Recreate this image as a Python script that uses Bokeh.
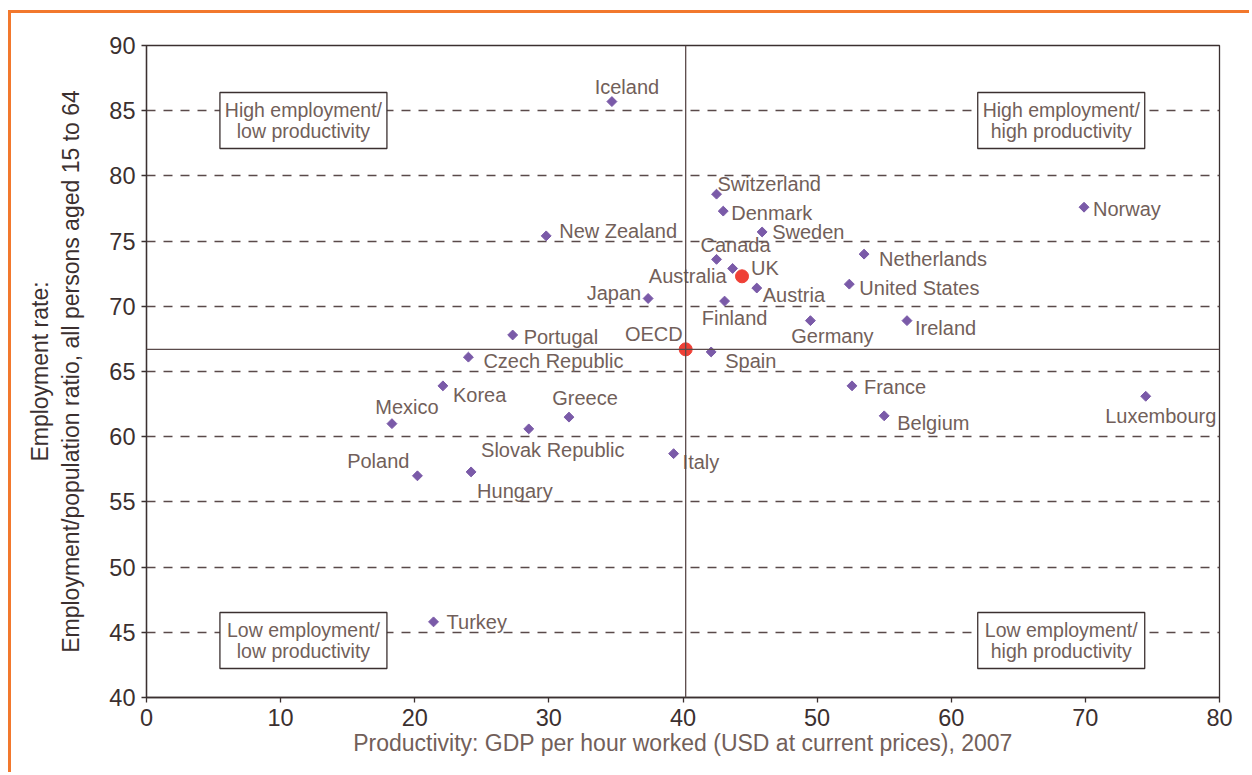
from bokeh.plotting import figure
from bokeh.models import Range1d, Span, FixedTicker, ColumnDataSource
from bokeh.core.properties import value
from bokeh.embed import file_html
from bokeh.resources import INLINE

# ---------------- data ----------------
countries = ["Iceland", "Switzerland", "Denmark", "Sweden", "New Zealand", "Norway",
             "Canada", "Netherlands", "Australia", "United States", "Austria", "Japan",
             "Finland", "Germany", "Ireland", "Portugal", "Spain", "Czech Republic",
             "Korea", "France", "Luxembourg", "Mexico", "Greece", "Belgium",
             "Slovak Republic", "Italy", "Poland", "Hungary", "Turkey"]
productivity = [34.7, 42.5, 43.0, 45.9, 29.8, 69.9,
                42.5, 53.5, 43.7, 52.4, 45.5, 37.4,
                43.1, 49.5, 56.7, 27.3, 42.1, 24.0,
                22.1, 52.6, 74.5, 18.3, 31.5, 55.0,
                28.5, 39.3, 20.2, 24.2, 21.4]
employment = [85.7, 78.6, 77.3, 75.7, 75.4, 77.6,
              73.6, 74.0, 72.9, 71.7, 71.4, 70.6,
              70.4, 68.9, 68.9, 67.8, 66.5, 66.1,
              63.9, 63.9, 63.1, 61.0, 61.5, 61.6,
              60.6, 58.7, 57.0, 57.3, 45.8]

highlight_names = ["UK", "OECD"]
highlight_productivity = [44.4, 40.2]
highlight_employment = [72.3, 66.7]

oecd_productivity = 40.2
oecd_employment = 66.7

quadrant_lines = [["High employment/", "low productivity"],
                  ["High employment/", "high productivity"],
                  ["Low employment/", "low productivity"],
                  ["Low employment/", "high productivity"]]

x_ticks = [0, 10, 20, 30, 40, 50, 60, 70, 80]
y_ticks = [40, 45, 50, 55, 60, 65, 70, 75, 80, 85, 90]
grid_levels = [45, 50, 55, 60, 65, 70, 75, 80, 85]

# ---------------- label placement (screen px offsets, styling only) ----------------
lab_dx = [15, 1, 8, 10, 13, 9,
          19, 15, -6, 10, 6, -7,
          10, 22, 8, 11, 14, 15,
          10, 12, 15, 15, 16, 13,
          24, 9, -8, 6, 13]
lab_dy = [-15, -10, 2, 0, -5, 2,
          -14, 5, 8, 4, 7, -5,
          17, 15, 7, 2, 9, 4,
          9, 1, 20, -17, -19, 7,
          21, 8, -15, 19, 0]
lab_align = ["center", "left", "left", "left", "left", "left",
             "center", "left", "right", "left", "left", "right",
             "center", "center", "left", "left", "left", "left",
             "left", "left", "center", "center", "center", "left",
             "center", "left", "right", "left", "left"]
hl_dx = [9, -3]
hl_dy = [-8, -15]
hl_align = ["left", "right"]

quad_x = [11.7, 68.2, 11.7, 68.2]
quad_y = [84.25, 84.25, 44.37, 44.37]

# ---------------- styling ----------------
FONT = "Liberation Sans"
TXT = "#725f5a"
DARK = "#3b3030"
LINE = "#5a4a4a"
PURPLE = "#7a5aa8"
RED = "#ef4036"
ORANGE = "#f2782d"

p = figure(width=1241, height=762, x_range=Range1d(0, 80), y_range=Range1d(40, 90),
           output_backend="svg", toolbar_location=None,
           min_border_left=135, min_border_right=33, min_border_top=32, min_border_bottom=78)
p.styles = {"border-left": f"3px solid {ORANGE}", "border-top": f"3px solid {ORANGE}",
            "margin-top": "10px", "margin-left": "8px"}
p.background_fill_color = "white"
p.border_fill_color = "white"
p.outline_line_color = DARK
p.outline_line_width = 1.3

p.xgrid.visible = False
p.ygrid.ticker = FixedTicker(ticks=grid_levels)
p.ygrid.grid_line_color = LINE
p.ygrid.grid_line_dash = "9 8"
p.ygrid.grid_line_width = 1.3

for ax, ticks in ((p.xaxis[0], x_ticks), (p.yaxis[0], y_ticks)):
    ax.ticker = FixedTicker(ticks=ticks)
    ax.axis_line_color = DARK
    ax.axis_line_width = 1.3
    ax.major_tick_line_color = DARK
    ax.major_tick_line_width = 1.3
    ax.major_tick_out = 5
    ax.major_tick_in = 0
    ax.minor_tick_line_color = None
    ax.major_label_text_font = FONT
    ax.major_label_text_font_size = "23.5px"
    ax.major_label_text_color = DARK
    ax.major_label_standoff = 6
    ax.axis_label_text_font = FONT
    ax.axis_label_text_font_style = "normal"
    ax.axis_label_text_font_size = "23px"

p.xaxis.axis_label = "Productivity: GDP per hour worked (USD at current prices), 2007"
p.xaxis.axis_label_text_color = TXT
p.xaxis.axis_label_standoff = 1
p.yaxis.axis_label = "Employment rate:\nEmployment/population ratio, all persons aged 15 to 64"
p.yaxis.axis_label_text_color = DARK
p.yaxis.axis_label_standoff = 22

# reference cross at OECD average
p.add_layout(Span(location=oecd_productivity, dimension="height", line_color=LINE, line_width=1.3))
p.add_layout(Span(location=oecd_employment, dimension="width", line_color=LINE, line_width=1.3))

# quadrant boxes
qsrc = ColumnDataSource(dict(x=quad_x, y=quad_y,
                             l1=[q[0] for q in quadrant_lines],
                             l2=[q[1] for q in quadrant_lines]))
p.rect(x="x", y="y", width=167, height=56, width_units="screen", height_units="screen",
       source=qsrc, fill_color="white", line_color=DARK, line_width=1.3)
for col, off in (("l1", -10.5), ("l2", 10.5)):
    p.text(x="x", y="y", text=col, source=qsrc, y_offset=off,
           text_align="center", text_baseline="middle",
           text_font=value(FONT), text_font_size="19.5px", text_color=TXT)

# country points
src = ColumnDataSource(dict(x=productivity, y=employment, name=countries,
                            dx=lab_dx, dy=lab_dy, align=lab_align))
p.scatter(x="x", y="y", source=src, marker="square", angle=0.785398, size=7,
          fill_color=PURPLE, line_color=PURPLE)
p.text(x="x", y="y", text="name", source=src, x_offset="dx", y_offset="dy",
       text_align="align", text_baseline="middle",
       text_font=value(FONT), text_font_size="20px", text_color=TXT)

hsrc = ColumnDataSource(dict(x=highlight_productivity, y=highlight_employment,
                             name=highlight_names, dx=hl_dx, dy=hl_dy, align=hl_align))
p.scatter(x="x", y="y", source=hsrc, marker="circle", size=13,
          fill_color=RED, line_color=RED)
p.text(x="x", y="y", text="name", source=hsrc, x_offset="dx", y_offset="dy",
       text_align="align", text_baseline="middle",
       text_font=value(FONT), text_font_size="20px", text_color=TXT)

open("out.html", "w").write(file_html(p, INLINE))
